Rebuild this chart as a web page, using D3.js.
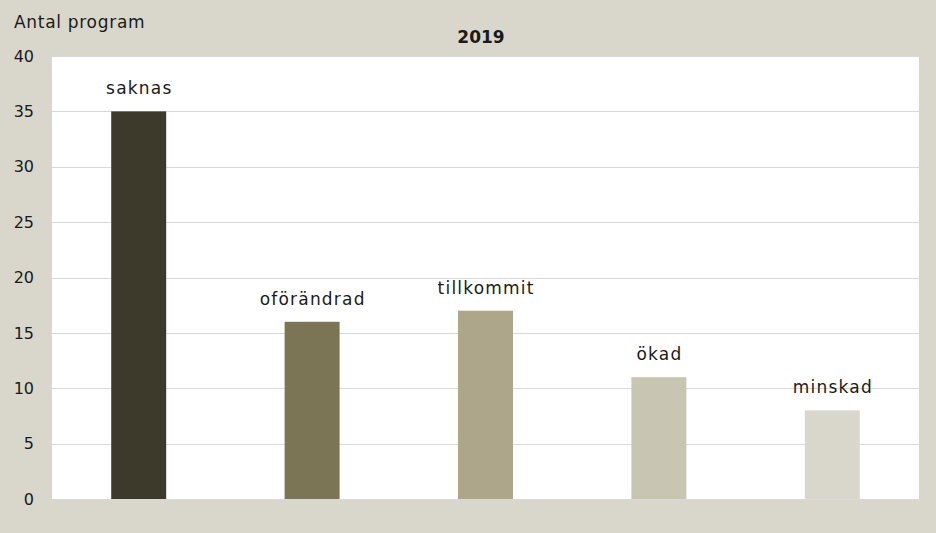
<!DOCTYPE html>
<html>
  <head>
    <meta charset="UTF-8">
    <title>2019</title>
    <style>
    body { margin: 0; background: #d9d7cb; }
    svg text { font-family: "DejaVu Sans", sans-serif; fill: #1a1a1a; }
    </style>
  </head>
  <body>
    <svg id="chart"></svg>
  </body>
  <script src="https://cdn.jsdelivr.net/npm/d3@7"></script>
  <script>
  var categories = ["saknas", "oförändrad", "tillkommit", "ökad", "minskad"];
  var values = [35, 16, 17, 11, 8];
  var barColors = ["#3d3a2b", "#7b7455", "#ada68a", "#c8c5b2", "#d9d7cb"];
  var yTicks = [0, 5, 10, 15, 20, 25, 30, 35, 40];
  var title = "2019";
  var yTitle = "Antal program";

  var width = 936, height = 533;
  var margin = {top: 56, right: 17, bottom: 34, left: 52};
  var innerW = width - margin.left - margin.right;
  var innerH = height - margin.top - margin.bottom;

  var svg = d3.select("#chart").attr("width", width).attr("height", height);
  svg.append("rect").attr("width", width).attr("height", height).attr("fill", "#d9d7cb");

  var g = svg.append("g").attr("transform", "translate(" + margin.left + "," + margin.top + ")");
  g.append("rect").attr("width", innerW).attr("height", innerH).attr("fill", "#fff");

  var x = d3.scaleBand().domain(categories).range([0, innerW]).padding(0);
  var y = d3.scaleLinear().domain([0, 40]).range([innerH, 0]);
  var barW = x.bandwidth() * 0.317;

  // gridlines
  g.selectAll(".grid")
    .data(yTicks)
    .enter()
    .append("line")
    .attr("x1", 0)
    .attr("x2", innerW)
    .attr("y1", function(d) { return Math.round(y(d)) + 0.5; })
    .attr("y2", function(d) { return Math.round(y(d)) + 0.5; })
    .attr("stroke", "#d9d9d9")
    .attr("stroke-width", 1);

  // y axis labels
  var yAxis = d3.axisLeft(y).tickValues(yTicks).tickSize(0).tickPadding(18);
  g.append("g").call(yAxis)
    .call(function(s) { s.select(".domain").remove(); })
    .selectAll("text")
    .style("font-size", "16px")
    .style("font-family", "DejaVu Sans, sans-serif")
    .attr("fill", "#1a1a1a");

  g.selectAll(".bar")
    .data(values)
    .enter()
    .append("rect")
    .attr("class", "bar")
    .attr("x", function(d, i) { return x(categories[i]) + (x.bandwidth() - barW) / 2; })
    .attr("y", function(d) { return y(d); })
    .attr("width", barW)
    .attr("height", function(d) { return y(0) - y(d); })
    .attr("fill", function(d, i) { return barColors[i]; });

  g.selectAll(".lbl")
    .data(values)
    .enter()
    .append("text")
    .attr("x", function(d, i) { return x(categories[i]) + x.bandwidth() / 2 + 0.6; })
    .attr("y", function(d) { return y(d) - 17; })
    .attr("text-anchor", "middle")
    .style("font-size", "17px")
    .style("letter-spacing", "1.2px")
    .text(function(d, i) { return categories[i]; });

  svg.append("text")
    .attr("x", 481)
    .attr("y", 43)
    .attr("text-anchor", "middle")
    .style("font-size", "17px")
    .style("font-weight", "bold")
    .text(title);

  svg.append("text")
    .attr("x", 14)
    .attr("y", 28)
    .style("font-size", "17px")
    .style("letter-spacing", "0.7px")
    .text(yTitle);
  </script>
</html>
